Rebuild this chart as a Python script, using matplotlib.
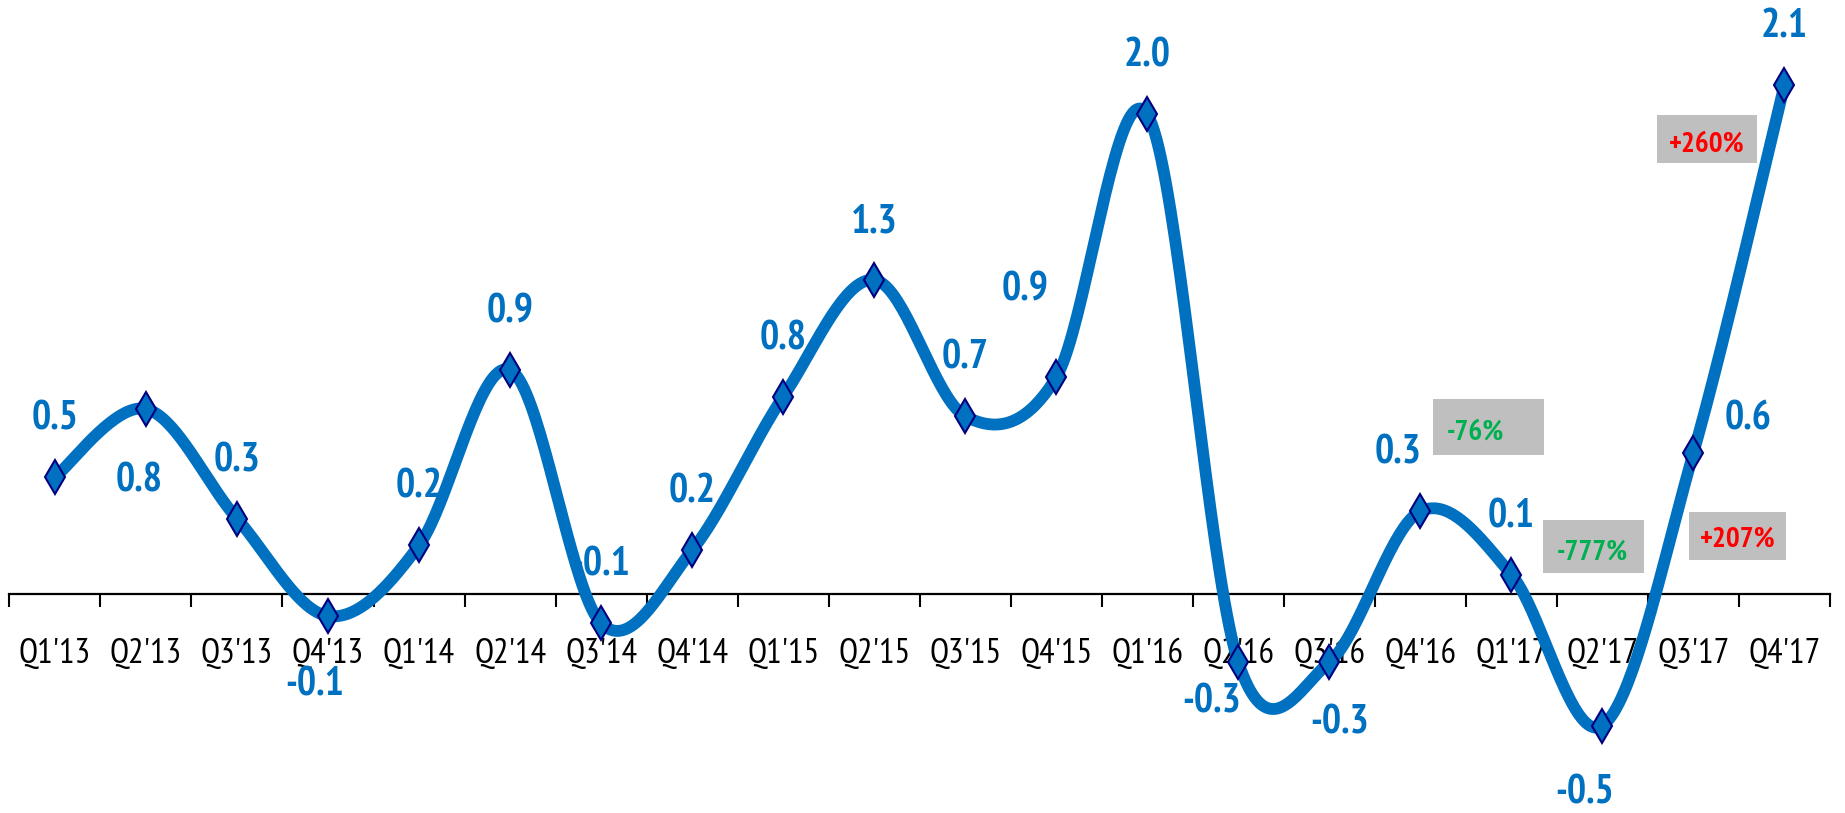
import numpy as np
import matplotlib
matplotlib.use("Agg")
import matplotlib.pyplot as plt
from matplotlib.patches import Rectangle

quarters = ["Q1'13", "Q2'13", "Q3'13", "Q4'13", "Q1'14", "Q2'14", "Q3'14", "Q4'14",
            "Q1'15", "Q2'15", "Q3'15", "Q4'15", "Q1'16", "Q2'16", "Q3'16", "Q4'16",
            "Q1'17", "Q2'17", "Q3'17", "Q4'17"]
values = [0.48, 0.76, 0.31, -0.09, 0.20, 0.92, -0.12, 0.18, 0.81, 1.29,
          0.73, 0.89, 1.97, -0.28, -0.28, 0.34, 0.08, -0.54, 0.58, 2.09]
changes = ["-76%", "-777%", "+207%", "+260%"]
change_colors = ["#00B050", "#00B050", "#FF0000", "#FF0000"]

BLUE = "#0070C0"
FONT = ["PT Sans Narrow", "DejaVu Sans"]

# label offsets in pixels (default: centered above the marker)
label_offsets = {1: (-7, -72), 3: (-13, -69), 11: (-31, 87), 13: (-27, -40),
                 14: (10, -61), 15: (-22, 58), 17: (-18, -67), 18: (55, 34)}
# boxes for the % changes: (x0, x1, y0, y1, text x, text y) in data units
boxes = [(15.14, 16.36, 0.57, 0.80, 15.60, 0.665),
         (16.35, 17.46, 0.086, 0.304, 16.89, 0.172),
         (17.95, 19.02, 0.14, 0.337, 18.49, 0.222),
         (17.60, 18.70, 1.77, 1.965, 18.15, 1.844)]


def smooth(x, y, n=40):
    # bezier smoothing similar to spreadsheet "smoothed line"
    p = np.column_stack([x, y]).astype(float)
    p_ext = np.vstack([p[0], p, p[-1]])
    t = np.linspace(0, 1, n)[:, None]
    out = []
    for i in range(len(p) - 1):
        p0, p3 = p[i], p[i + 1]
        p1 = p0 + (p_ext[i + 2] - p_ext[i]) / 6
        p2 = p3 - (p_ext[i + 3] - p_ext[i + 1]) / 6
        seg = ((1 - t) ** 3) * p0 + 3 * ((1 - t) ** 2) * t * p1 + 3 * (1 - t) * t ** 2 * p2 + t ** 3 * p3
        out.append(seg if i == 0 else seg[1:])
    out = np.vstack(out)
    return out[:, 0], out[:, 1]


fig = plt.figure(figsize=(18.45, 8.13), dpi=100)
ax = fig.add_axes([9.4 / 1845, 0, (1830 - 9.4) / 1845, 1])

x = np.arange(len(quarters))
sx, sy = smooth(x, values)
ax.plot(sx, sy, color=BLUE, lw=8.5, solid_capstyle="round", zorder=3)
ax.plot(x, values, ls="none", marker="d", ms=17, mfc=BLUE, mec="#000080", mew=1.5, zorder=4)

for i, v in enumerate(values):
    dx, dy = label_offsets.get(i, (0, 58))
    ax.annotate(f"{v:.1f}", (i, v), xytext=(dx, dy), textcoords="offset pixels",
                ha="center", va="center", color=BLUE, fontsize=29, fontweight="bold",
                family=FONT, zorder=2)

for (x0, x1, y0, y1, tx, ty), txt, c in zip(boxes, changes, change_colors):
    ax.add_patch(Rectangle((x0, y0), x1 - x0, y1 - y0, facecolor="#BFBFBF",
                           edgecolor="none", zorder=1))
    ax.text(tx, ty, txt, ha="center", va="center", color=c, fontsize=21,
            fontweight="bold", family=FONT, zorder=1.5)

ax.set_xlim(-0.5, len(quarters) - 0.5)
ax.set_ylim(-0.899, 2.439)
for s in ["top", "right", "left"]:
    ax.spines[s].set_visible(False)
ax.spines["bottom"].set_position(("data", 0))
ax.spines["bottom"].set_linewidth(1.6)
ax.set_yticks([])
ax.set_xticks(x)
ax.set_xticklabels(quarters, family=FONT, fontsize=25)
ax.set_xticks(np.arange(-0.5, len(quarters)), minor=True)
ax.tick_params(axis="x", which="major", length=0, pad=32)
ax.tick_params(axis="x", which="minor", length=9.4, width=1.5, direction="out")
ax.patch.set_alpha(0)

fig.savefig("out.png", dpi=100)
